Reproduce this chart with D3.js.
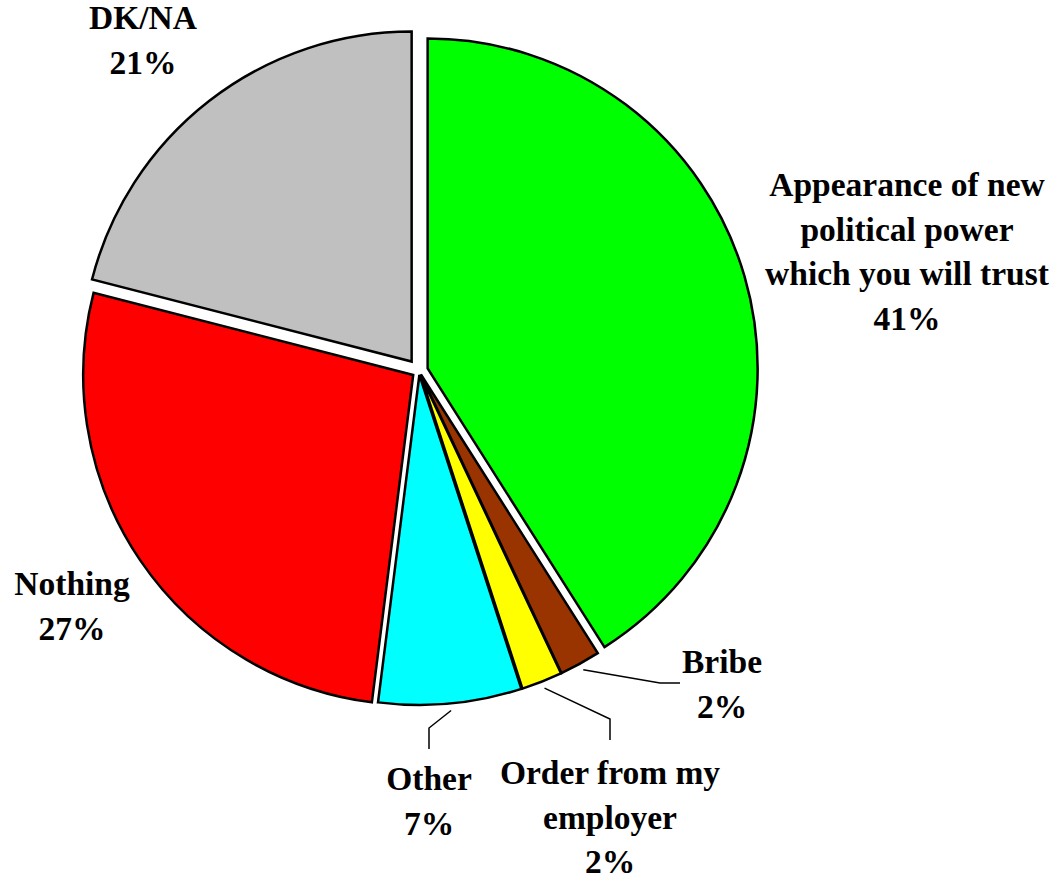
<!DOCTYPE html>
<html>
<head>
<meta charset="utf-8">
<script src="https://d3js.org/d3.v7.min.js"></script>
<style>
  html, body { margin: 0; padding: 0; background: #fff; }
  svg { display: block; }
  text { font-family: "Liberation Serif", "Times New Roman", serif; font-weight: bold; fill: #000; }
</style>
</head>
<body>
<svg id="chart" width="1058" height="879"></svg>
<script>
// Survey answers, clockwise from 12 o'clock
const categories = ["Appearance of new political power which you will trust", "Bribe", "Order from my employer", "Other", "Nothing", "DK/NA"];
const values = [41, 2, 2, 7, 27, 21];
const labelLines = [
  ["Appearance of new", "political power", "which you will trust", "41%"],
  ["Bribe", "2%"],
  ["Order from my", "employer", "2%"],
  ["Other", "7%"],
  ["Nothing", "27%"],
  ["DK/NA", "21%"]
];
const colors = ["#00ff00", "#993300", "#ffff00", "#00ffff", "#ff0000", "#c0c0c0"];

// Layout
const cx = 419, cy = 371, radius = 330;
const explode = [9, 4, 4, 4, 7, 12];
const labelPos = [
  { x: 907, y: 196 },
  { x: 722, y: 673 },
  { x: 610, y: 784 },
  { x: 429, y: 790 },
  { x: 72,  y: 595 },
  { x: 143, y: 29 }
];
const lineGap = 44.5;
// Leader lines: elbow point and end point for the small slices
const leaders = {
  1: { elbow: [660, 683], end: [680, 683] },
  2: { elbow: [610, 719], end: [610, 740] },
  3: { elbow: [429, 728], end: [429, 749] }
};

const svg = d3.select("#chart");
const data = values.map((v, i) => ({ name: categories[i], value: v, i }));

const pie = d3.pie().value(d => d.value).sort(null).startAngle(0).endAngle(2 * Math.PI);
const arcs = pie(data);
const arc = d3.arc().innerRadius(0).outerRadius(radius);

const g = svg.append("g").attr("transform", `translate(${cx},${cy})`);

function offsetOf(a) {
  const mid = (a.startAngle + a.endAngle) / 2;
  const e = explode[a.data.i];
  return [Math.sin(mid) * e, -Math.cos(mid) * e];
}

g.selectAll("path.slice")
  .data(arcs)
  .join("path")
  .attr("class", "slice")
  .attr("transform", a => { const o = offsetOf(a); return `translate(${o[0]},${o[1]})`; })
  .attr("d", arc)
  .attr("fill", a => colors[a.data.i])
  .attr("stroke", "#000")
  .attr("stroke-width", 2.5)
  .attr("stroke-linejoin", "miter");

// Leader lines
arcs.forEach(a => {
  const L = leaders[a.data.i];
  if (!L) return;
  const mid = (a.startAngle + a.endAngle) / 2;
  const o = offsetOf(a);
  const r0 = radius + 7;
  const sx = cx + o[0] + Math.sin(mid) * r0;
  const sy = cy + o[1] - Math.cos(mid) * r0;
  svg.append("polyline")
    .attr("points", [[sx, sy], L.elbow, L.end].map(p => p.join(",")).join(" "))
    .attr("fill", "none")
    .attr("stroke", "#000")
    .attr("stroke-width", 1.5);
});

// Labels
arcs.forEach(a => {
  const p = labelPos[a.data.i];
  const t = svg.append("text")
    .attr("text-anchor", "middle")
    .attr("font-size", 33.5);
  labelLines[a.data.i].forEach((line, k) => {
    t.append("tspan").attr("x", p.x).attr("y", p.y + k * lineGap).text(line);
  });
});
</script>
</body>
</html>
